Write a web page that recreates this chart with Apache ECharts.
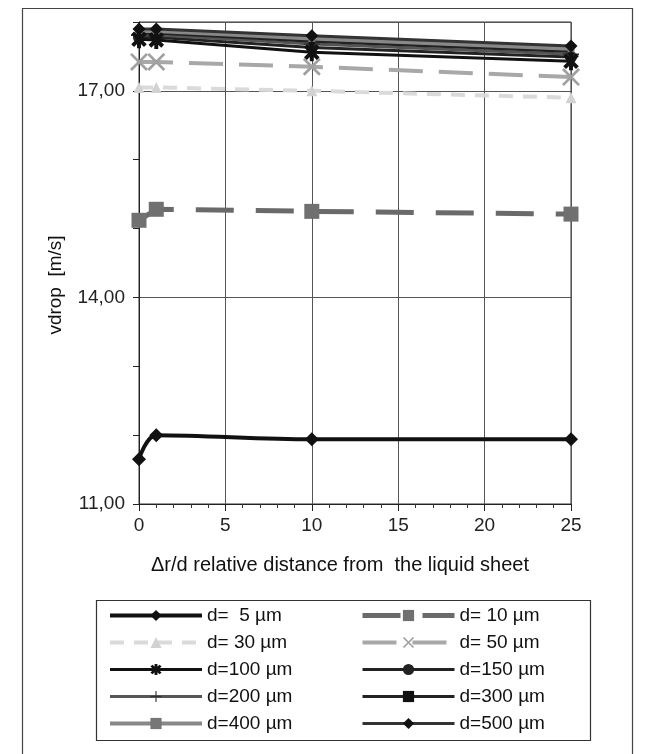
<!DOCTYPE html>
<html><head><meta charset="utf-8">
<script src="https://cdn.jsdelivr.net/npm/echarts@6.0.0/dist/echarts.min.js"></script>
<style>html,body{margin:0;padding:0;background:#fff}#c{width:646px;height:754px}</style>
</head><body><div id="c"></div>
<script>
// ---- data ----
const xVals = [0, 1, 10, 25];
const names = ['d=  5 µm','d= 10 µm','d= 30 µm','d= 50 µm','d=100 µm','d=150 µm','d=200 µm','d=300 µm','d=400 µm','d=500 µm'];
const v5   = [11.65, 12.00, 11.94, 11.94];
const v10  = [15.12, 15.28, 15.25, 15.21];
const v30  = [17.05, 17.05, 17.00, 16.90];
const v50  = [17.42, 17.42, 17.35, 17.20];
const v100 = [17.75, 17.74, 17.56, 17.43];
const v150 = [17.78, 17.78, 17.63, 17.49];
const v200 = [17.81, 17.81, 17.68, 17.53];
const v300 = [17.84, 17.84, 17.72, 17.57];
const v400 = [17.87, 17.87, 17.76, 17.61];
const v500 = [17.90, 17.90, 17.80, 17.65];
const yLabelValues = [11, 14, 17];
const xTitle = 'Δr/d relative distance from  the liquid sheet';
const yTitle = 'vdrop  [m/s]';

// ---- marker shapes ----
function bars(angles, L, w) {
  let p = '';
  angles.forEach(a => {
    const r = a * Math.PI / 180, c = Math.cos(r), s = Math.sin(r);
    const px = -s, py = c;
    const pts = [[L*c + w*px, L*s + w*py], [L*c - w*px, L*s - w*py], [-L*c - w*px, -L*s - w*py], [-L*c + w*px, -L*s + w*py]];
    p += 'M' + pts.map(q => q[0].toFixed(2) + ',' + q[1].toFixed(2)).join(' L') + ' Z ';
  });
  return 'path://' + p;
}
const symAsterisk = bars([90, 45, 135], 10, 2.2);
const symX = bars([45, 135], 10, 1.2);
const symPlus = bars([0, 90], 10, 1.0);

const FONT = 'Liberation Sans';
function pts(vals) { return xVals.map((x, i) => [x, vals[i]]); }
function ser(name, vals, o) {
  return {
    name: name, type: 'line', data: pts(vals),
    smooth: o.smooth || false,
    symbol: o.symbol, symbolSize: o.size, symbolKeepAspect: true,
    showSymbol: true,
    lineStyle: { color: o.lc || o.color, width: o.width, type: o.dash || 'solid' },
    itemStyle: { color: o.color, borderWidth: 0 },
    z: o.z || 2, animation: false
  };
}
const series = [
  ser(names[2], v30,  { color: '#d2d2d2', lc: '#dadada', width: 4, dash: [14, 10], symbol: 'triangle', size: 11, z: 1 }),
  ser(names[3], v50,  { color: '#a0a0a0', lc: '#a8a8a8', width: 4, dash: [34, 16], symbol: symX, size: 18, z: 1 }),
  ser(names[1], v10,  { color: '#707070', lc: '#6a6a6a', width: 5, dash: [38, 22], symbol: 'rect', size: 15 }),
  ser(names[0], v5,   { color: '#111', width: 4, symbol: 'diamond', size: 14, smooth: 0.35 }),
  ser(names[4], v100, { color: '#111', width: 3, symbol: symAsterisk, size: 18, z: 4 }),
  ser(names[5], v150, { color: '#222', width: 3, symbol: 'circle', size: 12, z: 2 }),
  ser(names[6], v200, { color: '#333', lc: '#555', width: 3, symbol: symPlus, size: 16, z: 2 }),
  ser(names[7], v300, { color: '#111', lc: '#222', width: 3, symbol: 'rect', size: 6, z: 2 }),
  ser(names[8], v400, { color: '#777', lc: '#888', width: 4, symbol: 'rect', size: 7, z: 2 }),
  ser(names[9], v500, { color: '#111', lc: '#333', width: 3, symbol: 'diamond', size: 13, z: 3 })
];

const legendCommon = {
  orient: 'vertical', itemWidth: 92, itemHeight: 14, itemGap: 8, padding: 0, height: 140,
  textStyle: { fontSize: 19, color: '#111', fontFamily: FONT },
  lineStyle: { width: 'inherit', type: 'inherit', color: 'inherit' },
  selectedMode: false
};

const chart = echarts.init(document.getElementById('c'), null, { renderer: 'canvas' });
chart.setOption({
  animation: false,
  backgroundColor: '#fff',
  textStyle: { fontFamily: FONT },
  grid: { left: 139, right: 75, top: 22, bottom: 250, show: true, borderColor: '#333', borderWidth: 1, backgroundColor: 'transparent' },
  xAxis: {
    type: 'value', min: 0, max: 25, interval: 5,
    axisLine: { show: true, onZero: false, lineStyle: { color: '#222', width: 1 } },
    axisTick: { show: true, length: 7, lineStyle: { color: '#222' } },
    minorTick: { show: true, splitNumber: 5, length: 4, lineStyle: { color: '#333' } },
    splitLine: { show: true, lineStyle: { color: '#555', width: 1 } },
    axisLabel: { fontSize: 19, color: '#222', margin: 12, fontFamily: FONT }
  },
  yAxis: [{
    type: 'value', min: 11, max: 18, interval: 3, position: 'left',
    axisLine: { show: true, onZero: false, lineStyle: { color: '#222', width: 1 } },
    axisTick: { show: false },
    splitLine: { show: true, lineStyle: { color: '#555', width: 1 } },
    axisLabel: {
      fontSize: 19, color: '#222', margin: 14, fontFamily: FONT,
      formatter: v => yLabelValues.indexOf(v) >= 0 ? v.toFixed(2).replace('.', ',') : ''
    }
  }, {
    type: 'value', min: 11, max: 18, interval: 1, position: 'left', offset: 0,
    axisLine: { show: false },
    axisTick: { show: true, length: 6, lineStyle: { color: '#222' } },
    splitLine: { show: false },
    axisLabel: { show: false }
  }],
  legend: [
    Object.assign({ data: [names[0], names[2], names[4], names[6], names[8]], left: 108, top: 606 }, legendCommon),
    Object.assign({ data: [names[1], names[3], names[5], names[7], names[9]], left: 360, top: 606 }, legendCommon)
  ],
  graphic: [
    { type: 'rect', shape: { x: 22.5, y: 8.5, width: 610, height: 800 }, style: { fill: 'none', stroke: '#444', lineWidth: 1.2 }, silent: true, z: -1 },
    { type: 'rect', shape: { x: 96.5, y: 600.5, width: 494, height: 140 }, style: { fill: 'none', stroke: '#333', lineWidth: 1.2 }, silent: true, z: -1 },
    { type: 'text', x: 340, y: 565, style: { text: xTitle, fontSize: 20, fontFamily: FONT, fill: '#111', align: 'center', verticalAlign: 'middle' }, silent: true },
    { type: 'text', x: 56, y: 285, rotation: Math.PI / 2, style: { text: yTitle, fontSize: 19, fontFamily: FONT, fill: '#111', align: 'center', verticalAlign: 'middle' }, silent: true }
  ],
  series: series
});
</script></body></html>
